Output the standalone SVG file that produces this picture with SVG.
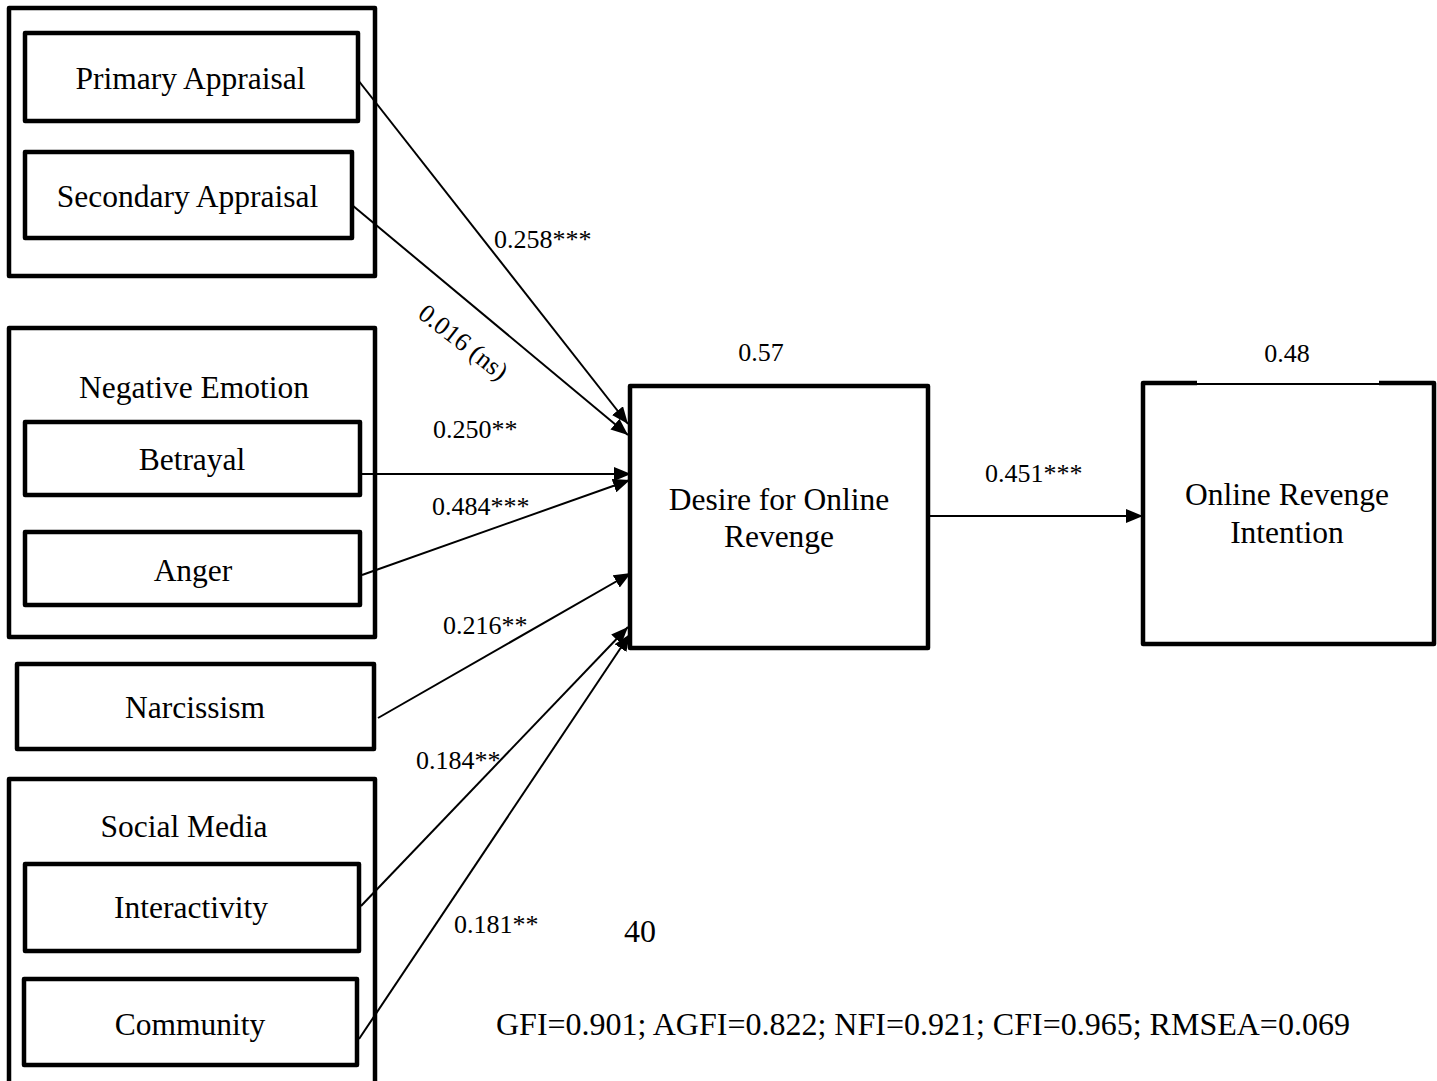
<svg xmlns="http://www.w3.org/2000/svg" width="1437" height="1081" viewBox="0 0 1437 1081">
<style>
text{font-family:"Liberation Serif","Times New Roman",serif;fill:#000}
.n{font-size:31.5px;text-anchor:middle}
.l{font-size:26px}
.box{fill:none;stroke:#000;stroke-width:4.5;stroke-linejoin:round}
.c{stroke:#000;stroke-width:2;fill:none}
</style>
<defs>
<marker id="ah" markerUnits="userSpaceOnUse" markerWidth="18" markerHeight="14" refX="17" refY="7" orient="auto">
<path d="M0,0 L17,7 L0,14 z" fill="#000"/>
</marker>
</defs>
<rect width="1437" height="1081" fill="#fff"/>

<g id="appraisal-group">
<rect class="box" x="9" y="8" width="366" height="268"/>
</g>
<g id="primary-appraisal">
<rect class="box" x="25" y="33" width="333" height="88"/>
<text class="n" x="190.5" y="89">Primary Appraisal</text>
</g>
<g id="secondary-appraisal">
<rect class="box" x="25" y="152" width="327" height="86"/>
<text class="n" x="187.5" y="207">Secondary Appraisal</text>
</g>

<g id="negative-emotion">
<rect class="box" x="9" y="328" width="366" height="309"/>
<text class="n" x="194" y="398">Negative Emotion</text>
</g>
<g id="betrayal">
<rect class="box" x="25" y="422" width="335" height="73"/>
<text class="n" x="192" y="470">Betrayal</text>
</g>
<g id="anger">
<rect class="box" x="25" y="532" width="335" height="73"/>
<text class="n" x="193" y="581">Anger</text>
</g>

<g id="narcissism">
<rect class="box" x="17" y="664" width="357" height="85"/>
<text class="n" x="195" y="718">Narcissism</text>
</g>

<g id="social-media">
<path class="box" d="M9,1090 L9,779 L375,779 L375,1090"/>
<text class="n" x="184" y="837">Social Media</text>
</g>
<g id="interactivity">
<rect class="box" x="25" y="864" width="334" height="87"/>
<text class="n" x="191" y="918">Interactivity</text>
</g>
<g id="community">
<rect class="box" x="24" y="979" width="333" height="86"/>
<text class="n" x="190" y="1035">Community</text>
</g>

<g id="desire">
<rect class="box" x="630" y="386" width="298" height="262"/>
<text class="n" x="779" y="510">Desire for Online</text>
<text class="n" x="779" y="547">Revenge</text>
<text class="l" x="761" y="361" text-anchor="middle">0.57</text>
</g>

<g id="intention">
<path class="box" d="M1197,383 L1143,383 L1143,644 L1434,644 L1434,383 L1379,383"/>
<line x1="1197" y1="384" x2="1379" y2="384" stroke="#000" stroke-width="2"/>
<text class="n" x="1287" y="505">Online Revenge</text>
<text class="n" x="1287" y="543">Intention</text>
<text class="l" x="1287" y="362" text-anchor="middle">0.48</text>
</g>

<g id="connectors">
<line class="c" x1="358" y1="80" x2="628" y2="424" marker-end="url(#ah)"/>
<line class="c" x1="352" y1="205" x2="628" y2="435" marker-end="url(#ah)"/>
<line class="c" x1="360" y1="474" x2="631" y2="474" marker-end="url(#ah)"/>
<line class="c" x1="362" y1="575" x2="630" y2="480" marker-end="url(#ah)"/>
<line class="c" x1="378" y1="718" x2="631" y2="573" marker-end="url(#ah)"/>
<line class="c" x1="361" y1="906" x2="628" y2="627" marker-end="url(#ah)"/>
<line class="c" x1="359" y1="1039" x2="630" y2="634" marker-end="url(#ah)"/>
<line class="c" x1="928" y1="516" x2="1143" y2="516" stroke-width="1.6" marker-end="url(#ah)"/>
</g>

<g id="labels">
<text class="l" x="494" y="248">0.258***</text>
<text class="l" x="458" y="349" text-anchor="middle" transform="rotate(38 458 349)">0.016 (ns)</text>
<text class="l" x="433" y="438">0.250**</text>
<text class="l" x="432" y="515">0.484***</text>
<text class="l" x="443" y="634">0.216**</text>
<text class="l" x="416" y="769">0.184**</text>
<text class="l" x="454" y="933">0.181**</text>
<text class="l" x="985" y="482">0.451***</text>
<text x="640" y="942" font-size="32" text-anchor="middle">40</text>
<text x="496" y="1035" font-size="32">GFI=0.901; AGFI=0.822; NFI=0.921; CFI=0.965; RMSEA=0.069</text>
</g>
</svg>
